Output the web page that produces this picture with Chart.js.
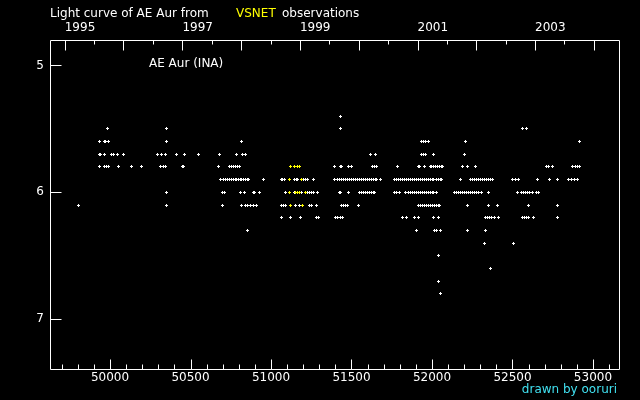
<!DOCTYPE html>
<html>
<head>
<meta charset="utf-8">
<script src="https://cdn.jsdelivr.net/npm/chart.js@4.4.0/dist/chart.umd.min.js"></script>
<style>
  html, body { margin: 0; background: #000; }
  canvas { display: block; }
</style>
</head>
<body>
<canvas id="lc" width="640" height="400"></canvas>
<script>
// observations, grouped by magnitude (JD - 2400000)
const jd54 = [51430];
const jd55 = [49982, 50349, 51430, 52561, 52586];
const jd56 = [49932, 49963, 49973, 49988, 50349, 50815, 51933, 51945, 51958, 51977, 52207, 52915];
const jd57 = [49934, 49940, 49963, 50007, 50019, 50044, 50081, 50293, 50318, 50342, 50411, 50460, 50547,
  50678, 50784, 50821, 50840, 51616, 51647, 51933, 51945, 51958, 52008, 52200];
const jd58 = [49932, 49963, 49976, 49988, 50050, 50131, 50193, 50311, 50333, 50345, 50448, 50454, 50672,
  50744, 50757, 50769, 50782, 50794, 50802, 51393, 51430, 51436, 51480, 51498, 51629, 51641, 51654, 51784,
  51915, 51924, 51952, 51989, 51998, 52008, 52020, 52033, 52045, 52057, 52064, 52188, 52219, 52269,
  52710, 52722, 52747, 52871, 52890, 52903, 52915];
const jd59 = [50684, 50703, 50715, 50727, 50740, 50752, 50765, 50777, 50786, 50796, 50808, 50818, 50827,
  50840, 50852, 50858, 50951, 51063, 51070, 51082, 51144, 51156, 51163, 51200, 51212, 51225, 51262,
  51393, 51411, 51423, 51436, 51448, 51461, 51473, 51486, 51498, 51511, 51523, 51535, 51548, 51560,
  51573, 51585, 51598, 51610, 51622, 51635, 51647, 51654, 51678, 51765, 51777, 51790, 51802, 51815,
  51827, 51840, 51852, 51864, 51877, 51889, 51902, 51914, 51927, 51939, 51951, 51964, 51976, 51989,
  52001, 52008, 52026, 52039, 52051, 52057, 52176, 52238, 52250, 52262, 52275, 52287, 52300, 52312,
  52325, 52337, 52350, 52362, 52374, 52499, 52517, 52536, 52654, 52729, 52778, 52847, 52865, 52884, 52903];
const jd60 = [50349, 50697, 50709, 50812, 50833, 50889, 50895, 50927, 51088, 51144, 51188, 51225, 51237,
  51250, 51262, 51287, 51424, 51430, 51480, 51548, 51560, 51573, 51585, 51598, 51610, 51622, 51635,
  51641, 51765, 51778, 51796, 51834, 51852, 51864, 51877, 51889, 51902, 51914, 51927, 51939, 51951,
  51964, 51977, 51989, 52001, 52008, 52026, 52138, 52150, 52163, 52175, 52188, 52200, 52213, 52225,
  52238, 52250, 52262, 52275, 52287, 52306, 52350, 52530, 52555, 52567, 52579, 52592, 52604, 52623,
  52648, 52660];
const jd61 = [49802, 50349, 50697, 50815, 50840, 50856, 50872, 50889, 50908, 51063, 51076, 51088, 51150,
  51175, 51237, 51250, 51281, 51436, 51448, 51461, 51473, 51542, 51915, 51927, 51939, 51952, 51964,
  51977, 51989, 52001, 52014, 52026, 52039, 52045, 52219, 52350, 52405, 52598, 52778];
const jd62 = [51063, 51119, 51181, 51281, 51293, 51399, 51411, 51430, 51442, 51815, 51840, 51890, 51915,
  52008, 52039, 52331, 52343, 52356, 52368, 52387, 52412, 52561, 52573, 52586, 52598, 52629, 52778];
const jd63 = [50852, 51902, 52014, 52029, 52051, 52219, 52331];
const jd64 = [52325, 52505];
const jd65 = [52039];
const jd66 = [52366];
const jd67 = [52039];
const jd68 = [52051];

// the yellow (VSNET) points
const vs58 = [51119, 51144, 51163, 51175];
const vs59 = [51113, 51188];
const vs60 = [51113, 51150, 51163, 51175, 51215];
const vs61 = [51119, 51194];

const magTicks = [5, 6, 7];
const jdTicks = [50000, 50500, 51000, 51500, 52000, 52500, 53000];
const yearTicks = [1995, 1996, 1997, 1998, 1999, 2000, 2001, 2002, 2003, 2004];
const yearLabels = [1995, 1997, 1999, 2001, 2003];

const whiteRows = [[5.4, jd54], [5.5, jd55], [5.6, jd56], [5.7, jd57], [5.8, jd58], [5.9, jd59], [6.0, jd60],
  [6.1, jd61], [6.2, jd62], [6.3, jd63], [6.4, jd64], [6.5, jd65], [6.6, jd66], [6.7, jd67], [6.8, jd68]];
const yellowRows = [[5.8, vs58], [5.9, vs59], [6.0, vs60], [6.1, vs61]];

function toPoints(rows) {
  let pts = [];
  rows.forEach(r => r[1].forEach(jd => pts.push({ x: jd, y: r[0] })));
  return pts;
}

// JD - 2400000 of 1 January of a year
function yearJD(y) {
  return Date.UTC(y, 0, 1) / 86400000 + 40587.5;
}

function plus(color) {
  const c = document.createElement('canvas');
  c.width = 3; c.height = 3;
  const g = c.getContext('2d');
  g.fillStyle = color;
  g.fillRect(1, 0, 1, 3);
  g.fillRect(0, 1, 3, 1);
  return c;
}

const frame = {
  id: 'frame',
  beforeDatasetsDraw(chart) {
    chart.ctx.imageSmoothingEnabled = false;
  },
  afterDraw(chart) {
    const { ctx, chartArea: a, scales } = chart;
    const L = Math.round(a.left) + 0.5, R = Math.round(a.right) - 0.5;
    const T = Math.round(a.top) + 0.5, B = Math.round(a.bottom) - 0.5;
    ctx.save();
    ctx.strokeStyle = '#fff';
    ctx.lineWidth = 1;
    ctx.beginPath();
    ctx.rect(L, T, R - L, B - T);
    // bottom: every 100 days, long ones every 500
    for (let d = 49700; d <= 53100; d += 100) {
      const x = Math.round(scales.x.getPixelForValue(d)) + 0.5;
      const len = d % 500 === 0 ? 10 : 5;
      ctx.moveTo(x, B); ctx.lineTo(x, B - len);
    }
    // top: years and half years
    yearTicks.forEach(y => {
      let x = Math.round(scales.x2.getPixelForValue(yearJD(y))) + 0.5;
      ctx.moveTo(x, T); ctx.lineTo(x, T + 10);
      x = Math.round(scales.x2.getPixelForValue(yearJD(y) - 182.6)) + 0.5;
      if (x > L) { ctx.moveTo(x, T); ctx.lineTo(x, T + 4); }
    });
    magTicks.forEach(m => {
      const y = Math.round(scales.y.getPixelForValue(m)) + 0.5;
      ctx.moveTo(L, y); ctx.lineTo(L + 11, y);
    });
    ctx.stroke();

    ctx.font = '12px "DejaVu Sans"';
    ctx.textBaseline = 'alphabetic';
    ctx.textAlign = 'left';
    ctx.fillStyle = '#fff';
    ctx.fillText('Light curve of AE Aur from', 50, 17);
    ctx.fillStyle = '#ffff00';
    ctx.fillText('VSNET', 236, 17);
    ctx.fillStyle = '#fff';
    ctx.fillText('observations', 282, 17);
    ctx.fillText('AE Aur (INA)', 149, 67);
    ctx.textAlign = 'right';
    ctx.fillStyle = 'rgb(64,224,240)';
    ctx.fillText('drawn by ooruri', 617, 393);
    ctx.restore();
  }
};

Chart.defaults.font.family = '"DejaVu Sans"';
Chart.defaults.font.size = 12;
Chart.defaults.color = '#fff';

new Chart(document.getElementById('lc'), {
  type: 'scatter',
  data: {
    datasets: [
      { label: 'VSNET', data: toPoints(yellowRows), pointStyle: plus('#ffff00') },
      { label: 'AE Aur', data: toPoints(whiteRows), pointStyle: plus('#ffffff') }
    ]
  },
  options: {
    responsive: false,
    animation: false,
    events: [],
    layout: { padding: { left: 0, right: 20, top: 0, bottom: 0 } },
    plugins: { legend: { display: false }, tooltip: { enabled: false } },
    scales: {
      x: {
        type: 'linear', position: 'bottom', min: 49627, max: 53168,
        grid: { display: false, drawTicks: false },
        border: { display: false },
        afterBuildTicks: s => { s.ticks = jdTicks.map(v => ({ value: v })); },
        afterFit: s => { s.height = 30; },
        ticks: { padding: 1, maxRotation: 0, autoSkip: false, callback: v => String(v) }
      },
      x2: {
        type: 'linear', position: 'top', min: 49627, max: 53168,
        grid: { display: false, drawTicks: false },
        border: { display: false },
        afterBuildTicks: s => { s.ticks = yearLabels.map(y => ({ value: yearJD(y) })); },
        afterFit: s => { s.height = 40; },
        ticks: { padding: 5, align: 'start', maxRotation: 0, autoSkip: false,
          callback: (v, i) => String(yearLabels[i]) }
      },
      y: {
        type: 'linear', position: 'left', min: 4.8, max: 7.4, reverse: true,
        grid: { display: false, drawTicks: false },
        border: { display: false },
        afterBuildTicks: s => { s.ticks = magTicks.map(v => ({ value: v })); },
        afterFit: s => { s.width = 50; },
        ticks: { padding: 6, callback: v => String(v) }
      }
    }
  },
  plugins: [frame]
});
</script>
</body>
</html>
